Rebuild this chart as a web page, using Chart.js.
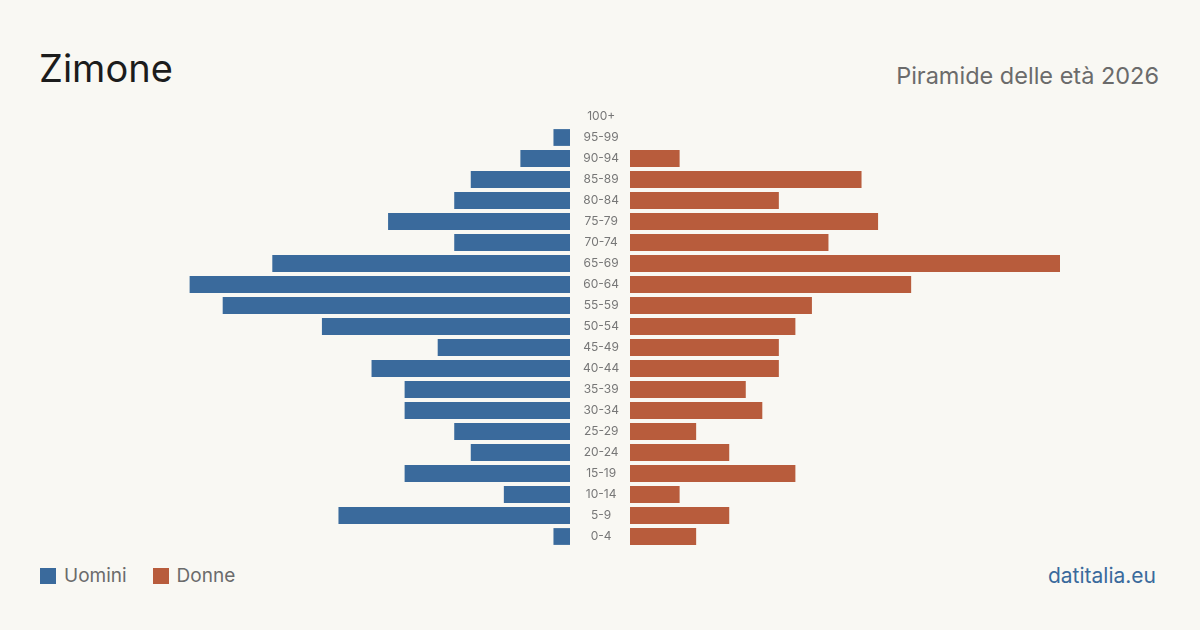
<!DOCTYPE html>
<html><head><meta charset="utf-8">
<script src="https://cdn.jsdelivr.net/npm/chart.js@4/dist/chart.umd.min.js"></script>
<style>
html,body{margin:0;padding:0;background:#f9f8f3;width:1200px;height:630px;overflow:hidden;font-family:Inter,"Noto Sans",sans-serif;}
#title{position:absolute;left:39px;top:43px;font-size:38px;color:#1c1c1c;line-height:50px;}
#sub{position:absolute;right:41px;top:61px;font-size:23.5px;color:#6b6b6b;line-height:30px;}
#lw{position:absolute;left:140px;top:106px;width:490px;height:441px;}
#rw{position:absolute;left:630px;top:106px;width:430px;height:441px;}
#legend{position:absolute;left:40px;top:564px;font-size:19px;color:#6b6b6b;line-height:24px;}
#legend span.sw{display:inline-block;width:16px;height:16px;vertical-align:-2px;margin-right:8px;}
#legend span.it{margin-right:26px;}
#brand{position:absolute;right:44px;top:564px;font-size:21px;color:#3a6a9c;line-height:24px;}
</style></head><body>
<div id="title">Zimone</div>
<div id="sub">Piramide delle età 2026</div>
<div id="lw"><canvas id="lc"></canvas></div>
<div id="rw"><canvas id="rc"></canvas></div>
<div id="legend"><span class="sw" style="background:#3a6a9c"></span><span class="it">Uomini</span><span class="sw" style="background:#b85c3c"></span><span>Donne</span></div>
<div id="brand">datitalia.eu</div>
<script>
const ageGroups = ["100+","95-99","90-94","85-89","80-84","75-79","70-74","65-69","60-64","55-59","50-54","45-49","40-44","35-39","30-34","25-29","20-24","15-19","10-14","5-9","0-4"];
const men   = [0,1,3,6,7,11,7,18,23,21,15,8,12,10,10,7,6,10,4,14,1];
const women = [0,0,3,14,9,15,12,26,17,11,10,9,9,7,8,4,6,10,3,6,4];
const maxVal = Math.max(...men, ...women);

const common = {
  indexAxis:'y', responsive:true, maintainAspectRatio:false, animation:false,
  layout:{padding:0},
  plugins:{legend:{display:false},tooltip:{enabled:false}}
};
new Chart(document.getElementById('lc'),{
  type:'bar',
  data:{labels:ageGroups,datasets:[{data:men,backgroundColor:'#3a6a9c',barPercentage:0.8,categoryPercentage:1}]},
  options:Object.assign({},common,{
    scales:{
      x:{reverse:true,min:0,max:maxVal,display:false},
      y:{position:'right',grid:{display:false,drawTicks:false,tickLength:0},border:{display:false},
         afterFit:(s)=>{s.width=60;s.paddingTop=0;s.paddingBottom=0;},
         ticks:{crossAlign:'center',padding:13,color:'#777',font:{family:'Inter',size:12}}}
    }
  })
});
new Chart(document.getElementById('rc'),{
  type:'bar',
  data:{labels:ageGroups,datasets:[{data:women,backgroundColor:'#b85c3c',barPercentage:0.8,categoryPercentage:1}]},
  options:Object.assign({},common,{
    scales:{
      x:{min:0,max:maxVal,display:false},
      y:{display:false}
    }
  })
});
</script>
</body></html>
